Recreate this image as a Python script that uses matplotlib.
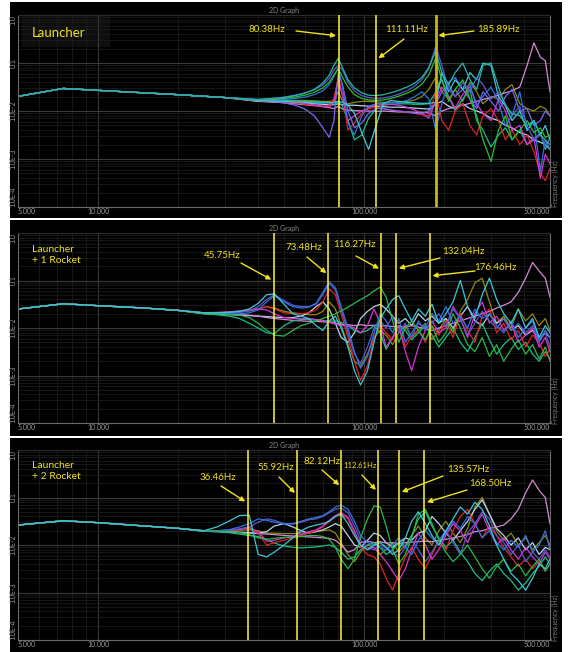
import numpy as np
import matplotlib
matplotlib.use('Agg')
import matplotlib.pyplot as plt
from matplotlib.patches import Rectangle
from matplotlib.transforms import blended_transform_factory

W, H = 569, 652
FONT = ['Lato', 'DejaVu Sans']
YEL = '#f0e21e'
TICK_C = '#9a9a9a'

# ---------------- data (log10 of magnitude) ----------------
# shared low frequency part, identical for every curve of a panel
p1_low_f = [5, 7.4, 10, 20, 30]
p1_low_v = [-1.695, -1.53, -1.57, -1.66, -1.72]
p2_low_f = [5, 7.4, 10, 15, 20]
p2_low_v = [-1.60, -1.49, -1.53, -1.58, -1.63]
p3_low_f = [5, 7.4, 10, 15, 20]
p3_low_v = [-1.58, -1.49, -1.53, -1.60, -1.65]

p1_freq = [40, 45, 50, 55, 60, 65, 70, 74, 77, 80, 83, 87, 92, 98, 104, 111, 118, 126, 135, 145,
           155, 165, 175, 186, 196, 208, 220, 235, 250, 265, 280, 300, 320, 340, 360, 385, 410, 435, 460, 480, 500]

p1_teal = [-1.76, -1.74, -1.72, -1.68, -1.63, -1.55, -1.42, -1.25, -1.05, -0.90, -1.10, -1.35, -1.52, -1.62, -1.67, -1.68, -1.66, -1.62, -1.57, -1.50,
           -1.42, -1.30, -1.10, -0.75, -1.20, -1.45, -1.20, -1.00, -1.35, -1.55, -1.05, -1.00, -1.50, -1.90, -2.05, -2.10, -2.30, -2.20, -2.50, -2.60, -2.70]
p1_slate = [-1.76, -1.74, -1.71, -1.67, -1.62, -1.56, -1.46, -1.32, -1.15, -1.05, -1.15, -1.40, -1.58, -1.68, -1.72, -1.74, -1.73, -1.70, -1.65, -1.58,
            -1.48, -1.35, -1.12, -0.65, -1.05, -1.55, -1.70, -1.40, -1.60, -1.30, -1.45, -1.75, -1.60, -1.85, -2.10, -1.90, -2.30, -2.60, -2.50, -2.70, -2.60]
p1_green = [-1.77, -1.76, -1.74, -1.71, -1.67, -1.61, -1.52, -1.40, -1.25, -1.12, -1.30, -1.50, -1.66, -1.74, -1.77, -1.78, -1.77, -1.74, -1.69, -1.63,
            -1.55, -1.44, -1.25, -0.90, -1.35, -1.80, -1.55, -1.35, -1.75, -2.10, -2.60, -3.05, -2.40, -2.10, -2.60, -2.40, -2.20, -2.45, -2.35, -2.55, -2.50]
p1_purple = [-1.78, -1.80, -1.83, -1.88, -1.96, -2.10, -2.35, -2.55, -2.20, -1.20, -1.45, -2.00, -2.35, -2.25, -2.05, -1.95, -1.95, -1.98, -2.00, -2.02,
             -2.05, -2.05, -2.00, -1.85, -1.60, -1.45, -1.70, -1.55, -1.75, -1.95, -1.60, -1.80, -2.00, -1.70, -1.55, -2.00, -1.95, -2.30, -2.20, -2.00, -2.10]
p1_red = [-1.78, -1.79, -1.81, -1.83, -1.86, -1.88, -1.90, -1.88, -1.75, -1.30, -1.65, -2.40, -2.25, -2.05, -1.95, -1.92, -1.95, -1.98, -2.00, -2.02,
          -2.05, -2.08, -2.10, -1.60, -2.20, -2.40, -2.00, -1.85, -2.30, -2.50, -2.10, -1.95, -2.20, -2.60, -2.40, -2.70, -2.50, -2.85, -3.30, -3.45, -3.20]
p1_magenta = [-1.78, -1.79, -1.80, -1.82, -1.84, -1.87, -1.90, -1.92, -1.80, -1.35, -1.70, -2.20, -2.10, -2.00, -1.93, -1.88, -1.86, -1.86, -1.88, -1.92,
              -1.98, -2.05, -2.15, -1.80, -1.50, -1.70, -1.95, -1.65, -1.50, -1.85, -2.05, -2.20, -1.75, -2.00, -2.40, -2.30, -2.70, -2.55, -3.40, -2.90, -3.10]
p1_cyan = [-1.78, -1.79, -1.80, -1.81, -1.82, -1.83, -1.83, -1.83, -1.82, -1.80, -1.82, -1.88, -2.05, -2.45, -2.80, -2.30, -1.85, -1.78, -1.80, -1.82,
           -1.83, -1.84, -1.84, -1.82, -1.20, -1.60, -1.35, -1.55, -1.20, -1.35, -1.00, -1.05, -1.70, -1.90, -2.20, -2.00, -2.40, -2.20, -2.50, -2.30, -2.60]
p1_olive = [-1.77, -1.77, -1.77, -1.78, -1.78, -1.79, -1.80, -1.80, -1.78, -1.60, -1.80, -1.85, -1.82, -1.80, -1.80, -1.81, -1.82, -1.82, -1.82, -1.80,
            -1.77, -1.70, -1.55, -1.30, -1.60, -1.75, -1.55, -1.80, -1.40, -1.60, -1.85, -1.70, -1.75, -1.55, -1.45, -1.85, -1.95, -2.00, -1.90, -1.95, -2.10]
p1_pink = [-1.79, -1.81, -1.83, -1.85, -1.87, -1.89, -1.91, -1.93, -1.95, -1.90, -1.96, -1.98, -1.99, -2.00, -2.00, -2.01, -2.00, -2.01, -2.02, -2.02,
           -2.03, -2.03, -2.04, -2.10, -2.00, -1.95, -1.92, -1.88, -1.84, -1.80, -1.76, -1.72, -1.67, -1.62, -1.58, -1.50, -1.05, -0.58, -0.88, -0.95, -1.60]
p1_light = [-1.80, -1.81, -1.82, -1.83, -1.84, -1.85, -1.86, -1.87, -1.87, -1.85, -1.87, -1.88, -1.88, -1.89, -1.90, -1.90, -1.91, -1.92, -1.92, -1.93,
            -1.94, -1.95, -1.96, -1.85, -1.80, -1.90, -1.95, -1.85, -1.95, -2.00, -2.05, -2.15, -2.20, -2.30, -2.35, -2.45, -2.50, -2.60, -2.65, -2.70, -2.80]
p1_blue = [-1.77, -1.77, -1.76, -1.74, -1.71, -1.66, -1.58, -1.45, -1.28, -1.10, -1.50, -2.25, -2.50, -2.10, -1.90, -1.85, -1.84, -1.83, -1.82, -1.78,
           -1.70, -1.60, -1.75, -2.40, -1.85, -1.40, -1.30, -1.55, -1.45, -1.90, -1.70, -1.50, -1.80, -2.30, -2.10, -1.60, -2.40, -2.20, -3.25, -2.60, -2.80]
p1_seagreen = [-1.78, -1.78, -1.78, -1.79, -1.80, -1.80, -1.81, -1.83, -1.86, -1.80, -1.90, -2.20, -2.60, -2.50, -2.15, -1.95, -1.88, -1.86, -1.85, -1.85,
               -1.86, -1.86, -1.85, -1.60, -1.35, -1.70, -2.00, -1.75, -1.55, -2.20, -2.40, -2.75, -2.50, -2.35, -2.60, -2.40, -2.70, -2.60, -2.45, -2.80, -2.55]

p23_freq = [25, 28, 31, 34, 37, 40, 43, 46, 50, 54, 58, 62, 66, 70, 74, 78, 82, 87, 92, 97,
            103, 109, 115, 121, 128, 135, 143, 151, 160, 170, 180, 191, 203, 216, 230, 245, 261, 278, 296, 315,
            335, 357, 380, 405, 430, 455, 480, 500]

p2_blue = [-1.68, -1.69, -1.70, -1.70, -1.68, -1.62, -1.45, -1.32, -1.45, -1.55, -1.58, -1.56, -1.48, -1.25, -1.03, -1.15, -1.55, -2.00, -2.50, -2.85,
           -2.60, -2.10, -1.70, -1.85, -2.10, -1.80, -2.30, -2.10, -1.90, -2.00, -1.70, -1.85, -1.55, -1.90, -1.75, -2.00, -1.60, -1.80, -1.70, -1.95,
           -2.10, -1.85, -2.20, -2.00, -1.85, -2.25, -2.05, -2.20]
p2_slate = [-1.68, -1.68, -1.68, -1.67, -1.64, -1.55, -1.40, -1.30, -1.42, -1.52, -1.55, -1.55, -1.50, -1.30, -1.06, -1.20, -1.60, -2.10, -2.55, -2.75,
            -2.40, -2.00, -1.85, -2.00, -1.75, -2.10, -1.90, -2.20, -1.85, -2.05, -1.90, -1.70, -1.95, -1.60, -1.80, -2.15, -1.90, -1.65, -1.85, -2.00,
            -1.80, -2.05, -1.90, -2.10, -1.95, -2.30, -2.10, -2.40]
p2_red = [-1.68, -1.68, -1.67, -1.65, -1.62, -1.60, -1.55, -1.60, -1.68, -1.70, -1.70, -1.68, -1.62, -1.45, -1.18, -1.30, -1.70, -2.20, -2.70, -3.10,
          -2.80, -2.20, -1.95, -2.10, -2.25, -1.95, -2.40, -2.15, -2.05, -2.30, -1.95, -2.15, -1.85, -2.20, -1.70, -2.05, -2.30, -1.75, -1.60, -2.10,
          -1.90, -2.25, -2.05, -2.40, -2.15, -2.30, -2.60, -2.45]
p2_green = [-1.69, -1.70, -1.71, -1.73, -1.78, -1.90, -2.05, -2.15, -2.17, -2.05, -1.95, -1.90, -1.85, -1.80, -1.75, -1.70, -1.64, -1.56, -1.48, -1.40,
            -1.32, -1.22, -1.14, -1.35, -1.85, -2.30, -2.00, -1.85, -2.05, -2.25, -1.95, -2.30, -2.10, -1.70, -2.00, -2.35, -2.50, -2.20, -2.60, -2.35,
            -2.70, -2.45, -2.25, -2.55, -2.35, -2.65, -2.40, -2.70]
p2_cyan = [-1.68, -1.68, -1.67, -1.65, -1.60, -1.48, -1.30, -1.28, -1.50, -1.70, -1.75, -1.80, -1.95, -2.05, -1.85, -1.75, -2.00, -2.40, -2.90, -3.20,
           -2.90, -2.30, -1.80, -1.60, -1.40, -1.32, -1.60, -1.85, -1.60, -1.75, -1.50, -1.90, -1.70, -1.45, -1.00, -1.55, -1.80, -1.30, -0.95, -1.40,
           -1.70, -1.90, -1.60, -2.00, -1.80, -2.20, -1.95, -2.10]
p2_magenta = [-1.68, -1.67, -1.66, -1.64, -1.62, -1.60, -1.62, -1.70, -1.78, -1.80, -1.80, -1.80, -1.82, -1.85, -1.88, -1.92, -1.95, -1.95, -2.00, -2.10,
              -1.95, -1.60, -1.90, -2.40, -2.20, -1.95, -2.50, -2.90, -2.40, -2.05, -1.85, -2.10, -2.00, -1.55, -1.80, -2.20, -1.70, -1.45, -1.90, -1.75,
              -2.05, -1.90, -2.30, -2.15, -2.00, -2.40, -2.20, -2.50]
p2_pink = [-1.69, -1.70, -1.71, -1.72, -1.73, -1.75, -1.78, -1.80, -1.82, -1.84, -1.85, -1.86, -1.86, -1.87, -1.88, -1.90, -1.92, -1.93, -1.95, -1.93,
           -1.95, -1.94, -1.96, -1.95, -1.97, -1.96, -1.98, -1.95, -1.98, -2.02, -2.05, -2.00, -1.95, -1.90, -1.85, -1.80, -1.75, -1.70, -1.65, -1.58,
           -1.52, -1.45, -1.25, -0.95, -0.62, -0.80, -0.95, -1.35]
p2_olive = [-1.68, -1.68, -1.67, -1.66, -1.64, -1.60, -1.55, -1.58, -1.65, -1.68, -1.70, -1.72, -1.72, -1.65, -1.45, -1.60, -1.95, -2.35, -2.70, -2.80,
            -2.55, -2.20, -2.05, -2.15, -2.35, -2.10, -1.95, -2.20, -2.05, -1.90, -2.25, -2.05, -1.80, -2.10, -1.65, -1.40, -1.05, -0.95, -1.45, -1.90,
            -1.75, -2.00, -1.60, -1.85, -1.70, -1.95, -1.80, -2.05]
p2_light = [-1.70, -1.71, -1.72, -1.73, -1.74, -1.75, -1.76, -1.77, -1.78, -1.78, -1.75, -1.68, -1.55, -1.45, -1.60, -1.90, -2.20, -2.30, -2.10, -1.80,
            -1.65, -1.55, -1.50, -1.60, -1.75, -1.90, -1.80, -1.95, -1.70, -1.85, -1.75, -1.90, -1.80, -2.00, -1.75, -1.55, -1.85, -1.95, -1.70, -1.90,
            -1.80, -2.05, -1.95, -2.15, -2.05, -2.25, -2.10, -2.20]
p2_seagreen = [-1.70, -1.72, -1.75, -1.80, -1.90, -2.00, -2.10, -2.12, -1.95, -1.85, -1.82, -1.82, -1.83, -1.84, -1.86, -1.85, -1.88, -1.95, -2.05, -2.10,
               -2.05, -1.95, -2.10, -2.45, -2.20, -1.95, -2.05, -2.25, -2.10, -1.95, -2.15, -2.40, -2.20, -2.00, -2.30, -2.50, -2.20, -1.90, -2.25, -2.55,
               -2.35, -2.20, -2.45, -2.30, -2.55, -2.70, -2.50, -2.65]

p3_teal = [-1.70, -1.62, -1.50, -1.38, -1.37, -2.20, -2.25, -2.15, -2.00, -1.85, -1.70, -1.62, -1.58, -1.55, -1.50, -1.40, -1.35, -1.55, -1.80, -2.00,
           -2.10, -2.00, -1.95, -2.05, -2.20, -2.10, -1.85, -1.50, -1.30, -1.55, -1.80, -2.00, -1.70, -1.45, -1.20, -1.35, -1.10, -1.25, -1.60, -2.00,
           -2.30, -2.60, -2.75, -2.95, -2.70, -2.40, -2.50, -2.30]
p3_blue = [-1.70, -1.70, -1.68, -1.62, -1.55, -1.45, -1.48, -1.52, -1.55, -1.55, -1.50, -1.45, -1.42, -1.38, -1.30, -1.20, -1.16, -1.25, -1.50, -1.80,
           -1.95, -2.00, -2.05, -2.10, -2.00, -1.85, -2.05, -2.20, -1.90, -1.70, -1.85, -2.00, -1.75, -1.50, -1.65, -1.40, -1.55, -1.85, -1.70, -1.95,
           -2.10, -1.90, -2.05, -1.80, -2.15, -2.00, -1.70, -2.10]
p3_slate = [-1.70, -1.70, -1.69, -1.66, -1.62, -1.52, -1.45, -1.48, -1.55, -1.56, -1.52, -1.47, -1.45, -1.40, -1.32, -1.25, -1.22, -1.32, -1.60, -1.90,
            -2.05, -2.10, -2.00, -2.05, -2.15, -2.25, -2.05, -1.90, -2.10, -2.35, -2.15, -1.90, -1.70, -1.95, -2.20, -1.75, -1.55, -1.30, -1.45, -1.80,
            -1.95, -2.20, -2.00, -2.35, -2.15, -2.30, -2.10, -2.25]
p3_red = [-1.70, -1.70, -1.70, -1.68, -1.64, -1.75, -2.00, -1.95, -1.90, -1.85, -1.80, -1.75, -1.70, -1.62, -1.50, -1.40, -1.35, -1.45, -1.75, -2.05,
          -2.20, -2.25, -2.40, -2.70, -2.95, -2.60, -2.25, -2.05, -2.30, -2.50, -2.20, -1.90, -2.10, -1.70, -1.40, -1.25, -1.55, -1.85, -1.60, -1.80,
          -2.05, -2.25, -2.45, -2.30, -2.50, -2.35, -2.55, -2.40]
p3_magenta = [-1.70, -1.70, -1.69, -1.67, -1.63, -1.72, -1.92, -1.90, -1.85, -1.82, -1.78, -1.72, -1.68, -1.60, -1.48, -1.38, -1.32, -1.42, -1.70, -2.00,
              -2.10, -2.05, -2.20, -2.35, -2.55, -2.75, -2.50, -2.10, -1.75, -2.00, -2.30, -2.10, -1.80, -1.55, -1.70, -1.95, -1.60, -1.35, -1.70, -2.00,
              -1.85, -2.10, -2.30, -2.05, -2.25, -2.40, -2.15, -2.30]
p3_green = [-1.70, -1.71, -1.72, -1.74, -1.78, -1.85, -1.88, -1.86, -1.84, -1.84, -1.82, -1.80, -1.80, -1.82, -1.88, -2.05, -2.30, -2.50, -2.30, -1.85,
            -1.45, -1.18, -1.20, -1.60, -2.10, -2.40, -2.20, -1.85, -1.35, -1.25, -1.55, -1.90, -2.15, -2.35, -2.20, -2.00, -2.25, -2.50, -2.70, -2.45,
            -2.30, -2.55, -2.40, -2.65, -2.45, -2.30, -2.55, -2.40]
p3_pink = [-1.71, -1.72, -1.73, -1.74, -1.75, -1.76, -1.77, -1.78, -1.80, -1.81, -1.82, -1.83, -1.84, -1.85, -1.86, -1.90, -2.00, -2.15, -2.10, -1.95,
           -1.92, -1.95, -1.93, -1.96, -1.95, -1.97, -1.95, -1.94, -1.93, -1.92, -1.93, -1.90, -1.88, -1.85, -1.82, -1.78, -1.72, -1.70, -1.65, -1.62,
           -1.58, -1.45, -1.25, -0.90, -0.63, -0.85, -1.00, -1.55]
p3_olive = [-1.70, -1.70, -1.70, -1.69, -1.68, -1.70, -1.75, -1.75, -1.76, -1.76, -1.75, -1.74, -1.72, -1.70, -1.68, -1.75, -1.95, -2.20, -2.35, -2.15,
            -2.00, -2.05, -2.20, -2.10, -1.95, -2.15, -2.00, -1.80, -1.60, -1.85, -2.00, -1.70, -1.50, -1.75, -1.95, -1.65, -1.20, -1.00, -1.35, -1.70,
            -1.90, -1.75, -2.00, -1.85, -2.10, -1.95, -1.80, -2.00]
p3_light = [-1.71, -1.71, -1.72, -1.73, -1.74, -1.75, -1.72, -1.60, -1.55, -1.62, -1.70, -1.75, -1.72, -1.68, -1.62, -1.55, -1.60, -1.80, -2.00, -2.05,
            -1.90, -1.75, -1.80, -1.95, -2.05, -1.95, -1.85, -1.90, -1.75, -1.70, -1.40, -1.55, -1.75, -1.90, -1.70, -1.50, -1.25, -1.05, -1.35, -1.65,
            -1.80, -2.00, -1.85, -2.10, -1.95, -2.20, -2.05, -2.10]
p3_seagreen = [-1.71, -1.72, -1.74, -1.77, -1.80, -1.82, -1.88, -1.96, -2.02, -2.05, -2.06, -2.05, -2.04, -2.02, -2.00, -2.05, -2.15, -2.30, -2.25, -2.10,
               -2.00, -1.95, -2.05, -2.20, -2.10, -1.95, -2.05, -1.80, -1.45, -1.30, -1.60, -1.85, -2.05, -1.90, -2.15, -2.35, -2.60, -2.75, -2.55, -2.40,
               -2.60, -2.75, -2.95, -2.80, -2.60, -2.45, -2.25, -2.40]

p1_curves = [p1_olive, p1_light, p1_pink, p1_seagreen, p1_red, p1_magenta, p1_purple, p1_blue,
             p1_cyan, p1_green, p1_slate, p1_teal]
p1_colors = ['#8c8a10', '#b8d4ec', '#d48ad8', '#18c088', '#e02424', '#d636d6', '#7a68ee', '#3272e6',
             '#3cc8d8', '#2ec02e', '#5c58c8', '#22b8a8']
p23_colors = ['#8c8a10', '#b8d4ec', '#d48ad8', '#18c088', '#e02424', '#d636d6', '#5c58c8', '#3272e6',
              '#2ab848', '#3cc8d8']
p2_curves = [p2_olive, p2_light, p2_pink, p2_seagreen, p2_red, p2_magenta, p2_slate, p2_blue, p2_green, p2_cyan]
p3_curves = [p3_olive, p3_light, p3_pink, p3_seagreen, p3_red, p3_magenta, p3_slate, p3_blue, p3_green, p3_teal]

# marker lines
p1_marks = [80.38, 111.11, 185.89]
p2_marks = [45.75, 73.48, 116.27, 132.04, 176.46]
p3_marks = [36.46, 55.92, 82.12, 112.61, 135.57, 168.50]

# annotation layout in image pixels: (label, freq, text_x, text_y, tail_x, tail_y, tip_y, size)
p1_notes = [('80.38Hz', 80.38, 267, 29, 296, 31, 36, 7),
            ('111.11Hz', 111.11, 407, 29, 404, 39, 60, 7),
            ('185.89Hz', 185.89, 498, 30, 474, 31, 36, 7)]
p2_notes = [('45.75Hz', 45.75, 222, 256, 241, 263, 281, 7),
            ('73.48Hz', 73.48, 304, 248, 307, 257, 275, 7),
            ('116.27Hz', 116.27, 354, 245, 356, 256, 270, 7),
            ('132.04Hz', 132.04, 463, 251, 440, 258, 269, 7),
            ('176.46Hz', 176.46, 495, 267, 475, 271, 276, 7)]
p3_notes = [('36.46Hz', 36.46, 218, 477, 221, 486, 503, 7),
            ('55.92Hz', 55.92, 276, 468, 279, 477, 495, 7),
            ('82.12Hz', 82.12, 322, 461, 322, 470, 487, 7),
            ('112.61Hz', 112.61, 360, 466, 362, 475, 492, 5.5),
            ('135.57Hz', 135.57, 468, 469, 443, 476, 493, 7),
            ('168.50Hz', 168.50, 490, 483, 467, 490, 503, 7)]

# ---------------- layout ----------------
fig = plt.figure(figsize=(W / 100, H / 100), dpi=100, facecolor='white')


def fpx(x, y):
    return x / W, 1 - y / H


def add_panel(top, bottom, ax_top, ax_bottom, low_f, low_v, freq, curves, colors,
              marks, mark_colors, notes, title, title_xy, title_size):
    # black panel background
    x0, y0 = fpx(10, bottom)
    fig.patches.append(Rectangle((x0, y0), 552 / W, (bottom - top) / H, transform=fig.transFigure,
                                 facecolor='black', edgecolor='none', zorder=-5))
    l, b = fpx(18, ax_bottom)
    ax = fig.add_axes([l, b, 532 / W, (ax_bottom - ax_top) / H], facecolor='black')
    ax.set_xscale('log')
    ax.set_yscale('log')
    ax.set_xlim(5, 500)
    ax.set_ylim(1e-4, 1.0)
    ax.grid(which='major', color='#3a3a3a', lw=0.8)
    ax.grid(which='minor', color='#1b1b1b', lw=0.6)
    ax.tick_params(which='both', length=0, labelleft=False, labelbottom=False)
    for side in ['left', 'bottom', 'right']:
        ax.spines[side].set_color('#6a6a6a')
        ax.spines[side].set_linewidth(0.8)
    ax.spines['top'].set_color('#2a2a2a')

    for vals, c in zip(curves, colors):
        f = list(low_f) + list(freq)
        v = np.power(10.0, np.array(list(low_v) + list(vals)))
        ax.plot(f, v, color=c, lw=0.9, zorder=2)

    for m, c, w in zip(marks, mark_colors[0], mark_colors[1]):
        ax.axvline(m, color=c, lw=w, zorder=4)

    xt = ax.get_xaxis_transform()
    h_ax = ax_bottom - ax_top
    for label, fr, tx, ty, ax_x, ay, tip_y, sz in notes:
        fig.text(tx / W, 1 - ty / H, label, color=YEL, fontsize=sz, family=FONT,
                 ha='center', va='center')
        ax.annotate('', xy=(fr, 1 - (tip_y - ax_top) / h_ax), xycoords=xt,
                    xytext=(ax_x, H - ay), textcoords='figure pixels',
                    arrowprops=dict(arrowstyle='-|>', color=YEL, lw=1.0, mutation_scale=7,
                                    shrinkA=0, shrinkB=2), zorder=5)

    # tick labels
    yt = blended_transform_factory(ax.transAxes, ax.transData)
    ylabs = [(1.0, '1.0', 'top'), (0.1, '0.1', 'center'), (1e-2, '1.0E-2', 'center'),
             (1e-3, '1.0E-3', 'center'), (1e-4, '1.0E-4', 'bottom')]
    for val, txt, va in ylabs:
        ax.text(-0.0095, val, txt, transform=yt, rotation=90, color=TICK_C, fontsize=5,
                ha='center', va=va, family=FONT, clip_on=False)
    xlabs = [(5, '5.000', 'left'), (10, '10.000', 'center'), (100, '100.000', 'center'),
             (500, '500.000', 'right')]
    for val, txt, ha in xlabs:
        ax.text(val, -0.022, txt, transform=xt, color=TICK_C, fontsize=5, ha=ha, va='center',
                family=FONT, clip_on=False)
    ax.text(0.5, 1.025, '2D Graph', transform=ax.transAxes, color='#8a8a8a', fontsize=5,
            ha='center', va='center', family=FONT)
    ax.text(1.011, 0.12, 'Frequency (Hz)', transform=ax.transAxes, color='#7a7a7a', fontsize=5,
            rotation=90, ha='center', va='center', family=FONT)

    fig.text(title_xy[0] / W, 1 - title_xy[1] / H, title, color=YEL, fontsize=title_size,
             family=FONT, ha='left', va='center', linespacing=1.3)
    return ax


ax1 = add_panel(2, 218, 15, 207, p1_low_f, p1_low_v, p1_freq, p1_curves, p1_colors,
                p1_marks, (['#fff53a', '#fff53a', '#c8b414'], [1.1, 1.1, 2.0]), p1_notes,
                'Launcher', (32, 33), 9.5)
ax1.add_patch(Rectangle(fpx(22, 47), 88 / W, 32 / H, transform=fig.transFigure,
                        facecolor='#0e0e0e', edgecolor='none', zorder=0.5, clip_on=False))
add_panel(220, 436, 233, 423, p2_low_f, p2_low_v, p23_freq, p2_curves, p23_colors,
          p2_marks, (['#fff53a'] * 5, [1.1] * 5), p2_notes, 'Launcher\n+ 1 Rocket', (32, 255), 7.5)
add_panel(438, 652, 450, 640, p3_low_f, p3_low_v, p23_freq, p3_curves, p23_colors,
          p3_marks, (['#fff53a'] * 6, [1.1] * 6), p3_notes, 'Launcher\n+ 2 Rocket', (32, 471), 7.5)

fig.savefig('out.png', dpi=100, facecolor='white')
